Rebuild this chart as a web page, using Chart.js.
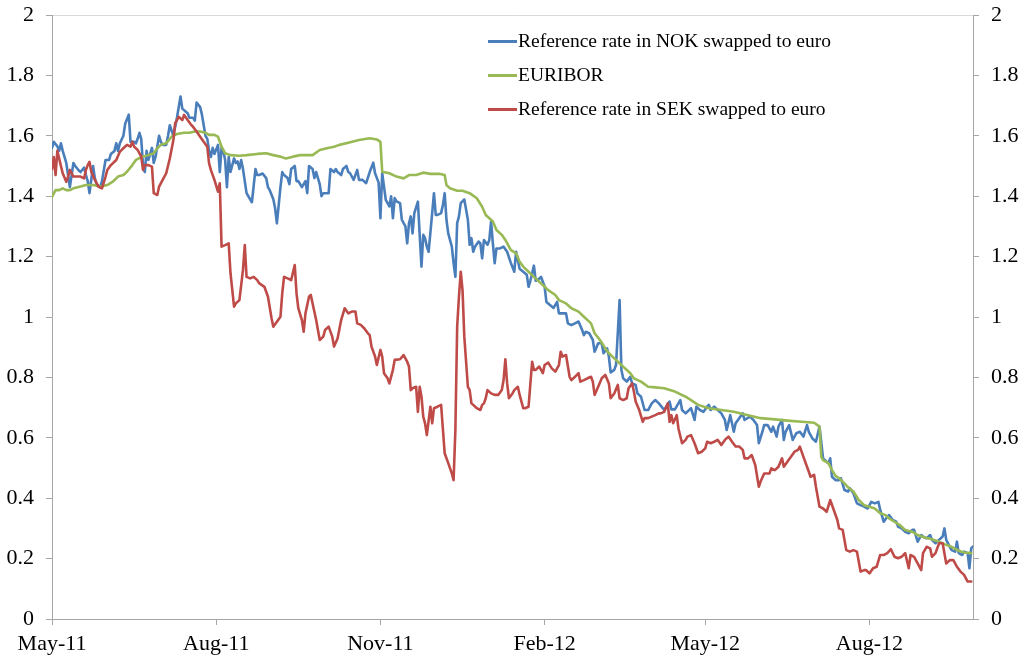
<!DOCTYPE html>
<html>
<head>
<meta charset="utf-8">
<script src="https://cdn.jsdelivr.net/npm/chart.js@4.4.1/dist/chart.umd.min.js"></script>
<style>
html,body{margin:0;padding:0;background:#fff;}
#wrap{position:relative;width:1028px;height:664px;overflow:hidden;}
canvas{display:block;}
#legend{position:absolute;left:488px;top:24px;font-family:'Liberation Serif','Times New Roman',serif;font-size:19.5px;color:#000;}
.item{display:flex;align-items:center;height:34px;white-space:nowrap;}
.swatch{width:29px;height:3px;margin-right:1px;}
</style>
</head>
<body>
<div id="wrap"><canvas id="c" width="1028" height="664"></canvas><div id="legend"></div></div>
<script>
// Day offsets from 1 May 2011
const xTickDays = [0, 92, 184, 276, 366, 458];
const xTickLabels = ['May-11', 'Aug-11', 'Nov-11', 'Feb-12', 'May-12', 'Aug-12'];
const yTickValues = [0, 0.2, 0.4, 0.6, 0.8, 1, 1.2, 1.4, 1.6, 1.8, 2];
const yTickLabels = ['0', '0.2', '0.4', '0.6', '0.8', '1', '1.2', '1.4', '1.6', '1.8', '2'];
const seriesNames = ['Reference rate in NOK swapped to euro', 'EURIBOR', 'Reference rate in SEK swapped to euro'];

const nokDays = [
0,1,3,4,5,6,8,9,10,12,
13,15,16,18,19,20,21,23,24,25,
27,28,30,32,33,35,36,37,38,40,
41,43,44,46,47,48,49,50,51,52,
53,54,56,57,58,60,61,62,64,65,
66,68,69,70,72,73,75,76,77,79,
80,81,83,84,86,87,88,89,90,91,
93,94,95,96,97,98,99,100,102,103,
104,105,106,107,109,111,112,114,115,116,
118,120,121,122,124,125,126,128,129,130,
132,133,134,136,137,138,140,141,142,143,
144,146,147,148,150,151,152,155,156,158,
159,160,162,163,165,166,167,169,171,172,
174,176,178,180,181,183,184,185,186,187,
189,190,191,192,193,195,196,198,199,200,
201,202,203,205,206,207,208,209,210,211,
213,214,215,216,218,219,220,221,222,224,
225,226,227,228,229,231,233,234,235,236,
237,239,240,241,242,244,245,246,247,248,
249,251,253,255,257,259,260,262,264,266,
267,268,270,271,273,274,276,277,279,281,
283,284,285,288,289,291,293,295,297,298,
299,301,303,304,306,308,309,311,312,313,
315,316,318,319,320,322,324,325,327,328,
330,332,334,336,338,340,343,346,347,349,
352,353,355,358,360,361,363,365,367,368,
369,371,373,375,377,378,380,382,383,385,
387,388,391,393,395,396,398,399,401,403,
404,406,407,409,410,411,413,415,417,419,
421,423,424,426,428,430,432,434,435,436,
437,439,441,442,444,446,447,449,451,453,
455,457,459,461,463,464,466,468,469,471,
473,474,476,478,480,482,483,485,487,488,
490,492,493,495,497,499,500,501,503,504,
506,507,508,510,511,513,514,515,516
];
const nokRates = [
1.56,1.58,1.565,1.55,1.575,1.55,1.51,1.47,1.43,1.51,
1.50,1.485,1.48,1.495,1.47,1.45,1.41,1.50,1.46,1.44,
1.43,1.45,1.52,1.52,1.54,1.55,1.575,1.55,1.575,1.60,
1.64,1.67,1.58,1.58,1.575,1.59,1.61,1.59,1.50,1.48,
1.55,1.52,1.56,1.51,1.53,1.60,1.58,1.57,1.57,1.60,
1.635,1.60,1.63,1.66,1.73,1.69,1.68,1.675,1.66,1.66,
1.65,1.71,1.695,1.67,1.60,1.59,1.55,1.53,1.56,1.54,
1.57,1.48,1.56,1.55,1.52,1.43,1.53,1.48,1.525,1.51,
1.515,1.49,1.52,1.49,1.41,1.39,1.38,1.49,1.47,1.47,
1.475,1.46,1.43,1.42,1.39,1.36,1.31,1.43,1.48,1.47,
1.46,1.44,1.49,1.50,1.45,1.45,1.43,1.44,1.45,1.41,
1.50,1.49,1.46,1.48,1.44,1.40,1.41,1.41,1.49,1.48,
1.49,1.48,1.47,1.49,1.50,1.48,1.476,1.454,1.487,1.454,
1.454,1.443,1.48,1.511,1.476,1.445,1.327,1.476,1.432,1.388,
1.366,1.40,1.327,1.394,1.383,1.377,1.322,1.30,1.244,1.31,
1.333,1.277,1.344,1.382,1.272,1.167,1.272,1.261,1.233,1.216,
1.344,1.41,1.338,1.338,1.344,1.371,1.41,1.322,1.277,1.233,
1.178,1.133,1.311,1.333,1.377,1.389,1.322,1.239,1.261,1.216,
1.233,1.25,1.244,1.194,1.255,1.239,1.255,1.316,1.244,1.178,
1.227,1.227,1.233,1.216,1.18,1.15,1.216,1.16,1.15,1.14,
1.10,1.12,1.17,1.12,1.127,1.133,1.10,1.05,1.04,1.03,
1.05,1.012,1.012,1.012,0.979,0.973,0.979,0.985,0.957,0.94,
0.951,0.946,0.924,0.885,0.913,0.913,0.88,0.896,0.869,0.816,
0.825,0.841,1.056,0.825,0.797,0.786,0.802,0.78,0.775,0.747,
0.736,0.692,0.692,0.714,0.725,0.714,0.692,0.72,0.694,0.694,
0.725,0.692,0.681,0.698,0.659,0.703,0.692,0.686,0.703,0.709,
0.692,0.703,0.692,0.681,0.659,0.626,0.675,0.62,0.648,0.665,
0.681,0.659,0.67,0.659,0.642,0.582,0.62,0.642,0.642,0.62,
0.637,0.604,0.637,0.659,0.593,0.62,0.642,0.593,0.615,0.62,
0.604,0.642,0.62,0.598,0.587,0.637,0.532,0.521,0.516,0.532,
0.471,0.46,0.46,0.466,0.427,0.422,0.433,0.416,0.383,0.377,
0.372,0.366,0.388,0.383,0.388,0.361,0.322,0.339,0.344,0.328,
0.322,0.306,0.30,0.289,0.284,0.295,0.295,0.256,0.278,0.273,
0.267,0.278,0.262,0.251,0.262,0.273,0.30,0.262,0.239,0.228,
0.223,0.256,0.218,0.212,0.223,0.218,0.168,0.234,0.24
];

const euriborDays = [
0,2,4,6,8,10,12,16,19,23,
27,31,34,37,40,42,45,47,50,54,
57,59,61,64,67,70,74,77,80,83,
86,88,91,93,95,97,100,105,109,115,
120,124,128,131,135,139,143,146,150,154,
158,161,166,172,178,182,184,185,189,193,
197,200,204,208,212,217,220,221,223,227,
230,234,238,241,243,247,249,252,254,257,
260,262,264,267,270,272,275,278,282,284,
288,291,295,298,302,304,307,310,312,315,
318,321,324,326,330,334,338,343,349,355,
358,362,368,375,382,390,397,405,412,420,
427,430,431,432,435,437,439,441,444,446,
449,452,455,458,461,464,467,469,472,475,
478,482,485,489,493,497,500,504,508,511,
515
];
const euriborRates = [
1.398,1.42,1.42,1.426,1.42,1.42,1.426,1.432,1.437,1.437,
1.432,1.437,1.448,1.465,1.47,1.481,1.503,1.52,1.529,1.536,
1.542,1.559,1.57,1.575,1.597,1.606,1.61,1.61,1.614,1.614,
1.61,1.603,1.603,1.597,1.564,1.542,1.536,1.534,1.536,1.54,
1.542,1.536,1.531,1.525,1.531,1.536,1.536,1.536,1.553,1.559,
1.564,1.57,1.577,1.586,1.592,1.588,1.58,1.481,1.476,1.465,
1.459,1.47,1.47,1.478,1.474,1.474,1.47,1.437,1.426,1.418,
1.418,1.41,1.393,1.365,1.338,1.316,1.288,1.272,1.255,1.222,
1.211,1.183,1.167,1.15,1.133,1.122,1.106,1.089,1.073,1.056,
1.045,1.029,1.018,1.001,0.979,0.946,0.924,0.896,0.88,0.863,
0.847,0.83,0.814,0.797,0.786,0.769,0.767,0.764,0.753,0.736,
0.725,0.709,0.698,0.692,0.686,0.675,0.665,0.661,0.657,0.653,
0.65,0.637,0.537,0.526,0.516,0.493,0.474,0.466,0.449,0.436,
0.422,0.394,0.377,0.372,0.366,0.35,0.344,0.333,0.322,0.311,
0.295,0.289,0.278,0.27,0.264,0.256,0.248,0.239,0.226,0.22,
0.218
];

const sekDays = [
0,1,2,3,5,6,8,9,10,12,
13,16,18,19,20,21,22,24,26,28,
30,31,33,36,38,40,42,44,45,46,
48,50,51,52,54,56,57,59,60,62,
64,66,68,69,71,73,74,76,78,79,
81,83,85,87,88,89,91,93,94,95,
97,99,100,102,103,105,107,108,109,111,
113,115,116,119,121,123,124,126,128,129,
130,132,134,136,137,138,140,141,142,144,
145,146,148,150,152,153,155,157,158,160,
162,164,166,168,170,171,173,175,177,178,
179,181,182,184,185,186,188,189,191,192,
195,197,199,200,201,202,204,205,206,207,
208,209,210,212,213,214,216,218,220,222,
224,225,226,227,228,229,230,231,233,234,
235,236,238,240,241,242,243,244,246,248,
250,252,253,254,255,256,258,259,261,262,
264,265,267,269,270,271,273,275,276,278,
280,282,284,285,286,288,290,291,293,295,
296,298,300,302,303,304,306,308,310,312,
313,315,317,318,320,322,323,325,326,327,
329,331,332,334,336,338,340,341,343,345,
346,347,348,350,351,353,355,356,358,360,
362,364,366,367,369,371,373,375,377,379,
381,383,385,387,388,390,392,394,396,397,
399,402,403,405,407,409,410,412,414,416,
418,419,421,423,425,427,428,430,432,434,
436,438,440,441,443,445,447,449,451,453,
455,456,458,460,462,464,466,468,470,472,
474,476,478,480,481,483,485,487,488,490,
492,493,495,497,499,501,503,505,507,509,
511,513,515
];
const sekRates = [
1.49,1.53,1.47,1.55,1.50,1.476,1.448,1.465,1.487,1.465,
1.465,1.465,1.459,1.487,1.503,1.514,1.481,1.454,1.432,1.426,
1.465,1.487,1.503,1.52,1.547,1.559,1.57,1.564,1.58,1.564,
1.553,1.531,1.487,1.503,1.503,1.498,1.41,1.404,1.432,1.454,
1.476,1.525,1.586,1.641,1.663,1.652,1.669,1.652,1.636,1.63,
1.614,1.597,1.58,1.564,1.509,1.487,1.454,1.415,1.443,1.233,
1.238,1.244,1.145,1.034,1.045,1.056,1.156,1.238,1.133,1.128,
1.133,1.122,1.112,1.10,1.067,0.996,0.968,0.984,1.001,1.078,
1.133,1.128,1.122,1.172,1.078,1.029,0.99,0.951,1.012,1.067,
1.073,1.045,0.99,0.924,0.935,0.957,0.968,0.935,0.902,0.929,
0.99,1.029,1.012,1.018,1.018,0.979,0.974,0.962,0.946,0.94,
0.902,0.869,0.841,0.891,0.869,0.814,0.797,0.78,0.825,0.858,
0.86,0.874,0.852,0.836,0.758,0.764,0.769,0.686,0.769,0.736,
0.67,0.648,0.609,0.703,0.648,0.698,0.703,0.709,0.549,0.516,
0.482,0.46,0.626,0.968,1.067,1.15,1.089,0.935,0.769,0.758,
0.714,0.709,0.698,0.692,0.709,0.714,0.731,0.758,0.747,0.742,
0.742,0.758,0.791,0.86,0.78,0.731,0.747,0.758,0.769,0.742,
0.698,0.698,0.703,0.852,0.825,0.825,0.836,0.814,0.841,0.849,
0.83,0.819,0.841,0.885,0.869,0.874,0.802,0.791,0.802,0.814,
0.786,0.791,0.797,0.802,0.786,0.742,0.769,0.797,0.808,0.78,
0.731,0.747,0.775,0.731,0.725,0.731,0.764,0.78,0.753,0.72,
0.692,0.653,0.665,0.665,0.67,0.675,0.681,0.681,0.686,0.714,
0.653,0.675,0.648,0.675,0.63,0.582,0.593,0.604,0.609,0.582,
0.549,0.554,0.565,0.587,0.582,0.587,0.593,0.576,0.593,0.604,
0.587,0.571,0.571,0.56,0.532,0.532,0.543,0.51,0.438,0.455,
0.482,0.482,0.499,0.493,0.504,0.532,0.504,0.521,0.537,0.554,
0.56,0.571,0.537,0.504,0.471,0.477,0.438,0.372,0.366,0.355,
0.394,0.361,0.328,0.30,0.295,0.228,0.223,0.228,0.223,0.157,
0.162,0.162,0.151,0.168,0.173,0.212,0.212,0.218,0.231,0.206,
0.201,0.206,0.218,0.168,0.212,0.206,0.184,0.162,0.218,0.239,
0.234,0.206,0.218,0.251,0.251,0.184,0.195,0.195,0.173,0.157,
0.146,0.124,0.124
];

const colors = ['#4a7ebb', '#98b954', '#be4b48'];

function pts(days, vals) {
  const n = Math.min(days.length, vals.length);
  const out = [];
  for (let i = 0; i < n; i++) out.push({x: days[i], y: vals[i]});
  return out;
}

const tickFont = {family: "'Liberation Serif', 'Times New Roman', serif", size: 22};
const axisGray = '#a6a6a6';

function fitY(width) {
  return s => { s.width = width; s.paddingTop = 0; s.paddingBottom = 0; };
}

const chart = new Chart(document.getElementById('c'), {
  type: 'line',
  data: {
    datasets: [
      {label: seriesNames[0], data: pts(nokDays, nokRates), borderColor: colors[0], order: 3},
      {label: seriesNames[1], data: pts(euriborDays, euriborRates), borderColor: colors[1], order: 2},
      {label: seriesNames[2], data: pts(sekDays, sekRates), borderColor: colors[2], order: 1}
    ]
  },
  options: {
    responsive: false,
    animation: false,
    layout: {padding: {top: 15, left: 0, right: 0, bottom: 0}},
    plugins: {legend: {display: false}, tooltip: {enabled: false}},
    elements: {
      point: {radius: 0, hoverRadius: 0},
      line: {borderWidth: 2.6, tension: 0, borderJoinStyle: 'round', borderCapStyle: 'round', fill: false}
    },
    scales: {
      x: {
        type: 'linear', min: 0, max: 516,
        afterBuildTicks: s => { s.ticks = xTickDays.map(v => ({value: v})); },
        ticks: {autoSkip: false, maxRotation: 0, minRotation: 0, font: tickFont, color: '#000', padding: 6,
                callback: v => xTickLabels[xTickDays.indexOf(v)]},
        grid: {drawOnChartArea: false, tickLength: 6, color: axisGray},
        border: {color: axisGray, width: 1},
        afterFit: s => { s.height = 45; s.paddingLeft = 0; s.paddingRight = 0; }
      },
      y: {
        position: 'left', min: 0, max: 2,
        afterBuildTicks: s => { s.ticks = yTickValues.map(v => ({value: v})); },
        ticks: {font: tickFont, color: '#000', padding: 12, callback: (v, i) => yTickLabels[i]},
        grid: {drawOnChartArea: false, tickLength: 6, color: axisGray},
        border: {color: axisGray, width: 1},
        afterFit: fitY(52)
      },
      y2: {
        position: 'right', min: 0, max: 2,
        afterBuildTicks: s => { s.ticks = yTickValues.map(v => ({value: v})); },
        ticks: {font: tickFont, color: '#000', padding: 12, callback: (v, i) => yTickLabels[i]},
        grid: {
          drawOnChartArea: true, tickLength: 6, tickColor: axisGray,
          color: c => (c.tick && c.tick.value === 2) ? '#d9d9d9' : 'rgba(0,0,0,0)'
        },
        border: {color: axisGray, width: 1},
        afterFit: fitY(55)
      }
    }
  }
});

// HTML legend, in series order
const legend = document.getElementById('legend');
chart.data.datasets.forEach(ds => {
  const item = document.createElement('div');
  item.className = 'item';
  const sw = document.createElement('span');
  sw.className = 'swatch';
  sw.style.background = ds.borderColor;
  const tx = document.createElement('span');
  tx.textContent = ds.label;
  item.appendChild(sw);
  item.appendChild(tx);
  legend.appendChild(item);
});
</script>
</body>
</html>
